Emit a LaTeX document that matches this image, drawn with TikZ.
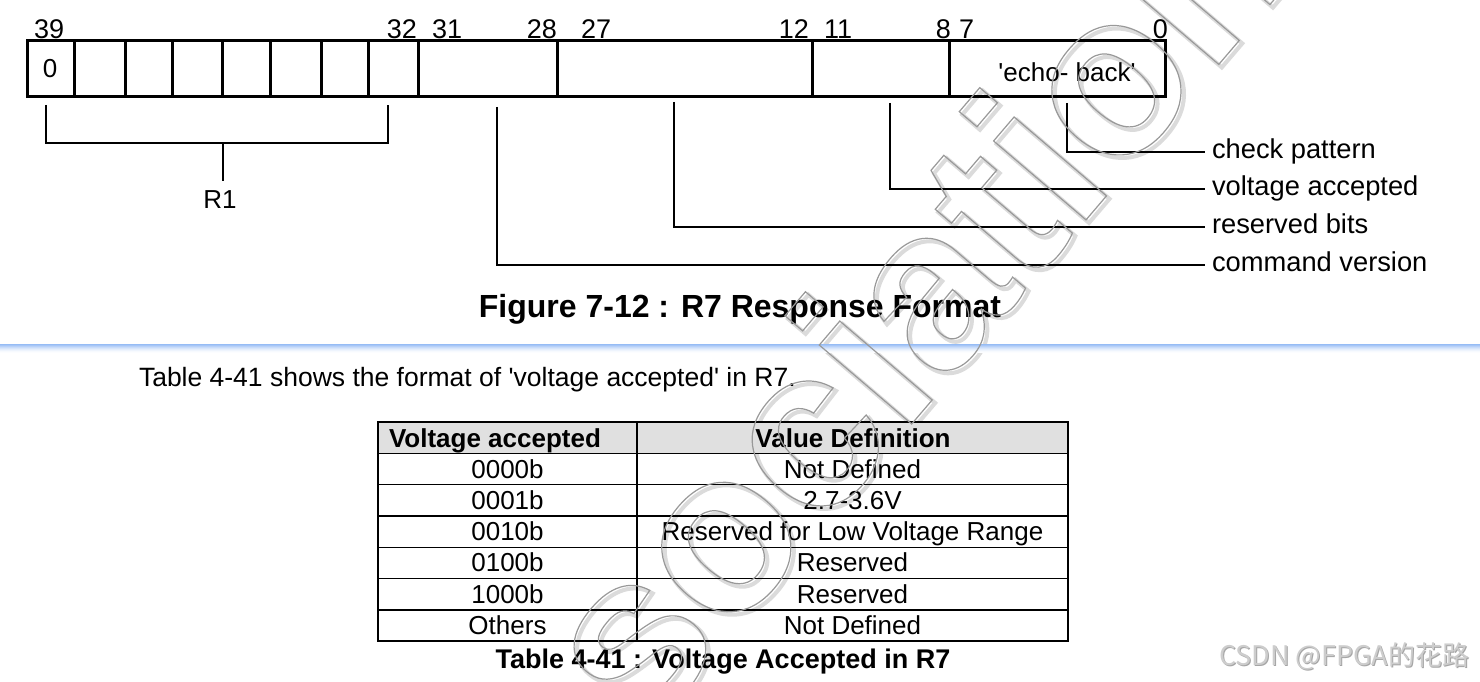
\documentclass[tikz,border=0pt]{standalone}
\usepackage{fontspec}
\setmainfont{Liberation Sans}
\newfontfamily\cjkfont{Noto Sans CJK SC}
\newcommand\fs[1]{\fontsize{#1}{#1}\selectfont}
\newcommand\wmtext[3]{\special{pdf:literal direct 1 Tr #1 w #2 G}#3\special{pdf:literal direct 0 Tr}}
\newcommand\sq{\textquotesingle}
\definecolor{hdrgray}{RGB}{224,224,224}
\definecolor{sepblue}{RGB}{150,188,245}
\definecolor{csdngray}{RGB}{205,205,205}
\definecolor{csdnshadow}{RGB}{165,165,165}
\begin{document}
\begin{tikzpicture}[x=1pt,y=-1pt,
  every node/.style={inner sep=0pt,outer sep=0pt},
  field/.style={draw,line width=3pt,minimum height=56pt,inner sep=0pt},
  bitlbl/.style={font={\fs{27}}},
  txt/.style={font={\fs{26}}},
  callout/.style={line width=2.6pt},
  bracket/.style={line width=2pt},
  lbl/.style={font={\fs{27.3}},anchor=west,inner xsep=7pt,text height=19.5pt,text depth=5.7pt},
  tline/.style={line width=1.4pt},
  figcapstyle/.style={font={\bfseries\fs{32}}},
  tabcapstyle/.style={font={\bfseries\fs{27}}},
  hdr/.style={font={\bfseries\fs{26}}},
  wmstyle/.style={anchor=base west,rotate=49.5,font={\bfseries\fs{230}}}]
\useasboundingbox (0,0) rectangle (1480,682);
\fill[white] (0,0) rectangle (1480,682);

% watermark shadow (behind content)
\node[wmstyle] (wmshadow) at (456,964) {\wmtext{4}{0.86}{Association}};

% register fields
\node[field,minimum width=47pt] (c39) at (50.5,69) {};
\node[field,minimum width=51pt] (c38) at (99.5,69) {};
\node[field,minimum width=47pt] (c37) at (148.5,69) {};
\node[field,minimum width=50pt] (c36) at (197,69) {};
\node[field,minimum width=48pt] (c35) at (246,69) {};
\node[field,minimum width=51pt] (c34) at (295.5,69) {};
\node[field,minimum width=47pt] (c33) at (344.5,69) {};
\node[field,minimum width=50pt] (c32) at (393,69) {};
\node[field,minimum width=139pt] (f31) at (487.5,69) {};
\node[field,minimum width=255pt] (f27) at (684.5,69) {};
\node[field,minimum width=137pt] (f11) at (880.5,69) {};
\node[field,minimum width=216pt] (f7) at (1057,69) {};

\node[txt,anchor=base] (zero) at (50,78) {0};
\node[txt,anchor=base] (echo) at (1067,82) {\sq echo- back\sq};

% bit numbers
\node[bitlbl,anchor=base west] (b39) at (34,39) {39};
\node[bitlbl,anchor=base east] (b32) at (417,39) {32};
\node[bitlbl,anchor=base west] (b31) at (432,39) {31};
\node[bitlbl,anchor=base east] (b28) at (557,39) {28};
\node[bitlbl,anchor=base west] (b27) at (581,39) {27};
\node[bitlbl,anchor=base east] (b12) at (809,39) {12};
\node[bitlbl,anchor=base west] (b11) at (824,39) {11};
\node[bitlbl,anchor=base east] (b8) at (951,39) {8};
\node[bitlbl,anchor=base west] (b7) at (959,39) {7};
\node[bitlbl,anchor=base east] (b0) at (1168,39) {0};

% R1 bracket
\coordinate (r1a) at (46,105);
\coordinate (r1b) at (388,105);
\coordinate (r1m) at (223,143);
\coordinate (r1s) at (223,181);
\node[txt,anchor=base] (R1) at (220,208) {R1};
\draw[bracket] (r1a) |- (r1m) -| (r1b);
\draw[bracket] (r1m) -- (r1s);

% callouts
\node[lbl] (lcp) at (1205,152) {check pattern};
\node[lbl] (lva) at (1205,189) {voltage accepted};
\node[lbl] (lrb) at (1205,227) {reserved bits};
\node[lbl] (lcv) at (1205,265) {command version};
\coordinate (tcp) at (1067,103);
\coordinate (tva) at (890,103);
\coordinate (trb) at (674,102);
\coordinate (tcv) at (497,107);
\draw[callout] (tcp) |- (lcp.west);
\draw[callout] (tva) |- (lva.west);
\draw[callout] (trb) |- (lrb.west);
\draw[callout] (tcv) |- (lcv.west);

% figure caption
\node[figcapstyle,anchor=base] (figcap) at (740,317) {Figure 7-12 : R7 Response Format};

% separator
\foreach \i/\p in {0/100,1/85,2/68,3/52,4/38,5/26,6/16,7/8,8/3}{
  \fill[sepblue!\p!white] (0,344+\i) rectangle (1480,345+\i);
}

% paragraph
\node[font={\fs{26.5}},anchor=base west] (para) at (139,386) {Table 4-41 shows the format of \sq voltage accepted\sq{} in R7.};

% table
\fill[hdrgray] (378,422) rectangle (1068,453.3);
\foreach \y in {453.3,484.6,515.9,547.2,578.5,609.8}{
  \draw[tline] (378,\y) -- (1068,\y);
}
\draw[tline] (378,422) rectangle (1068,641.1);
\draw[tline] (637,422) -- (637,641.1);

\node[hdr,anchor=base west] (h1) at (389,447) {Voltage accepted};
\node[hdr,anchor=base] (h2) at (853,447) {Value Definition};

\node[txt,anchor=base] (a1) at (507.5,478) {0000b};
\node[txt,anchor=base] (a2) at (507.5,509.3) {0001b};
\node[txt,anchor=base] (a3) at (507.5,540.6) {0010b};
\node[txt,anchor=base] (a4) at (507.5,571.9) {0100b};
\node[txt,anchor=base] (a5) at (507.5,603.2) {1000b};
\node[txt,anchor=base] (a6) at (507.5,634.5) {Others};
\node[txt,anchor=base] (v1) at (852.5,478) {Not Defined};
\node[txt,anchor=base] (v2) at (852.5,509.3) {2.7-3.6V};
\node[txt,anchor=base] (v3) at (852.5,540.6) {Reserved for Low Voltage Range};
\node[txt,anchor=base] (v4) at (852.5,571.9) {Reserved};
\node[txt,anchor=base] (v5) at (852.5,603.2) {Reserved};
\node[txt,anchor=base] (v6) at (852.5,634.5) {Not Defined};

\node[tabcapstyle,anchor=base] (tabcap) at (723,668) {Table 4-41 : Voltage Accepted in R7};

% watermark outline (on top)
\node[wmstyle] (wm) at (453,961) {\wmtext{1.2}{0.6}{Association}};

\node[anchor=base west,text=csdnshadow,font={\cjkfont\fs{27}}] (csdnsh) at (1220,666) {CSDN @FPGA的花路};
\node[anchor=base west,text=csdngray,font={\cjkfont\fs{27}}] (csdn) at (1219,665) {CSDN @FPGA的花路};
\end{tikzpicture}
\end{document}
